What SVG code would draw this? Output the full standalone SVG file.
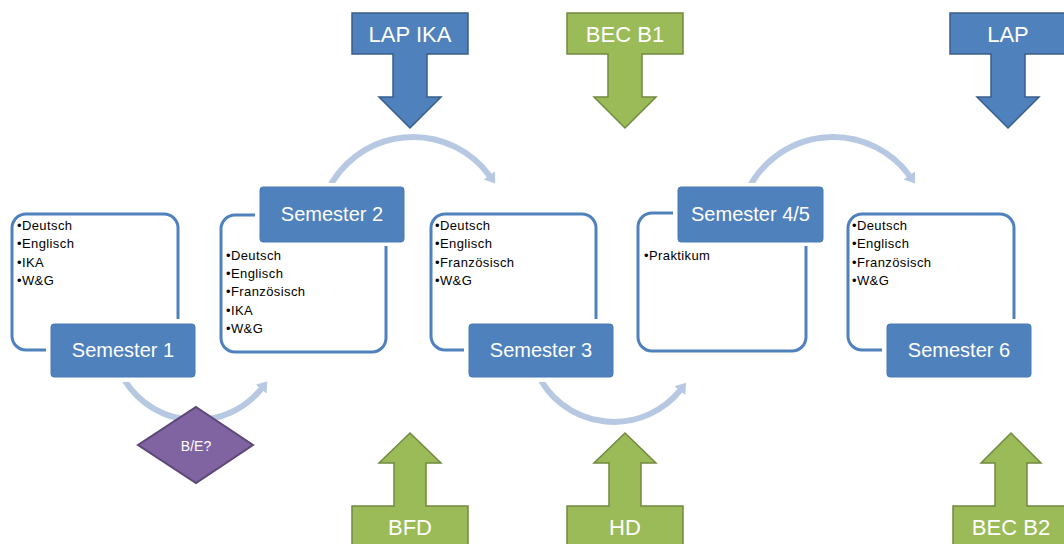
<svg xmlns="http://www.w3.org/2000/svg" width="1064" height="544" viewBox="0 0 1064 544">
<style>
.card{fill:#fff;stroke:#4f81bd;stroke-width:3}
.gap{fill:#fff}
.lbl{fill:#4f81bd;stroke:#4a7ab3;stroke-width:1}
.lt{font-family:"Liberation Sans",Arial,sans-serif;font-size:20px;fill:#fff;text-anchor:middle}
.bt{font-family:"Liberation Sans",Arial,sans-serif;font-size:13px;letter-spacing:0.4px;fill:#000}
.arc{fill:none;stroke:#b7c8e3;stroke-width:6}
.barrow{fill:#4f81bd;stroke:#385d8a;stroke-width:1.5}
.garrow{fill:#9bbb59;stroke:#71893f;stroke-width:1.5}
.at{font-family:"Liberation Sans",Arial,sans-serif;font-size:22px;fill:#fff;text-anchor:middle}
.dia{fill:#8064a2;stroke:#5c4776;stroke-width:2}
.dt{font-family:"Liberation Sans",Arial,sans-serif;font-size:14px;fill:#fff;text-anchor:middle}
</style>
<defs>
<marker id="ah" markerUnits="userSpaceOnUse" markerWidth="16" markerHeight="16" refX="1" refY="8" orient="auto">
<path d="M0,1 L10,8 L0,15 Z" fill="#b7c8e3"/>
</marker>
</defs>
<g id="connectors">
<path class="arc" d="M119.9,371.5 A84,84 0 0 0 261.7,388.3" marker-end="url(#ah)"/>
<path class="arc" d="M326.9,191.9 A95,95 0 0 1 489.9,176.2" marker-end="url(#ah)"/>
<path class="arc" d="M537,372.9 A85,85 0 0 0 680.5,389.9" marker-end="url(#ah)"/>
<path class="arc" d="M746.9,191.9 A95,95 0 0 1 909.9,176.2" marker-end="url(#ah)"/>
</g>
<g id="sem1">
<rect class="card" x="12" y="214" width="166" height="136" rx="14"/>
<text class="bt" x="17" y="230">•Deutsch</text>
<text class="bt" x="17" y="248">•Englisch</text>
<text class="bt" x="17" y="266.5">•IKA</text>
<text class="bt" x="17" y="285">•W&amp;G</text>
<rect class="gap" x="46" y="319" width="154" height="63"/>
<rect class="lbl" x="51" y="324" width="144" height="53" rx="3"/>
<text class="lt" x="123" y="357">Semester 1</text>
</g>
<g id="sem2">
<rect class="card" x="221" y="215" width="165" height="137" rx="14"/>
<text class="bt" x="226" y="260">•Deutsch</text>
<text class="bt" x="226" y="278">•Englisch</text>
<text class="bt" x="226" y="296">•Französisch</text>
<text class="bt" x="226" y="314.5">•IKA</text>
<text class="bt" x="226" y="333">•W&amp;G</text>
<rect class="gap" x="255" y="183" width="154" height="63"/>
<rect class="lbl" x="260" y="187" width="144" height="55" rx="3"/>
<text class="lt" x="332" y="221">Semester 2</text>
</g>
<g id="sem3">
<rect class="card" x="431" y="214" width="165" height="136" rx="14"/>
<text class="bt" x="435" y="230">•Deutsch</text>
<text class="bt" x="435" y="248">•Englisch</text>
<text class="bt" x="435" y="266.5">•Französisch</text>
<text class="bt" x="435" y="285">•W&amp;G</text>
<rect class="gap" x="464" y="319" width="154" height="63"/>
<rect class="lbl" x="469" y="324" width="144" height="53" rx="3"/>
<text class="lt" x="541" y="357">Semester 3</text>
</g>
<g id="sem45">
<rect class="card" x="638" y="213" width="168" height="138" rx="14"/>
<text class="bt" x="644" y="260">•Praktikum</text>
<rect class="gap" x="673" y="183" width="155" height="63"/>
<rect class="lbl" x="678" y="187" width="145" height="55" rx="3"/>
<text class="lt" x="750.5" y="221">Semester 4/5</text>
</g>
<g id="sem6">
<rect class="card" x="848" y="214" width="166" height="136" rx="14"/>
<text class="bt" x="852" y="230">•Deutsch</text>
<text class="bt" x="852" y="248">•Englisch</text>
<text class="bt" x="852" y="266.5">•Französisch</text>
<text class="bt" x="852" y="285">•W&amp;G</text>
<rect class="gap" x="882" y="319" width="154" height="63"/>
<rect class="lbl" x="887" y="324" width="144" height="53" rx="3"/>
<text class="lt" x="959" y="357">Semester 6</text>
</g>
<g id="decision">
<path class="dia" d="M196,407 L253,445 L196,483 L138,445 Z"/>
<text class="dt" x="196" y="451">B/E?</text>
</g>
<g id="lapika">
<path class="barrow" d="M352,13 H468 V54 H427 V97 H441 L410,128 L379,97 H393 V54 H352 Z"/>
<text class="at" x="410" y="42">LAP IKA</text>
</g>
<g id="becb1">
<path class="garrow" d="M567,13 H683 V54 H642 V97 H656 L625,128 L594,97 H608 V54 H567 Z"/>
<text class="at" x="625" y="42">BEC B1</text>
</g>
<g id="lap">
<path class="barrow" d="M950,13 H1066 V54 H1025 V97 H1039 L1008,128 L977,97 H991 V54 H950 Z"/>
<text class="at" x="1008" y="42">LAP</text>
</g>
<g id="bfd">
<path class="garrow" d="M352,552 V506 H394 V463 H379 L410,433 L441,463 H426 V506 H468 V552 Z"/>
<text class="at" x="410" y="535">BFD</text>
</g>
<g id="hd">
<path class="garrow" d="M567,552 V506 H609 V463 H594 L625,433 L656,463 H641 V506 H683 V552 Z"/>
<text class="at" x="625" y="535">HD</text>
</g>
<g id="becb2">
<path class="garrow" d="M953,552 V506 H995 V463 H981 L1011,433 L1041,463 H1027 V506 H1069 V552 Z"/>
<text class="at" x="1011" y="535">BEC B2</text>
</g>
</svg>
